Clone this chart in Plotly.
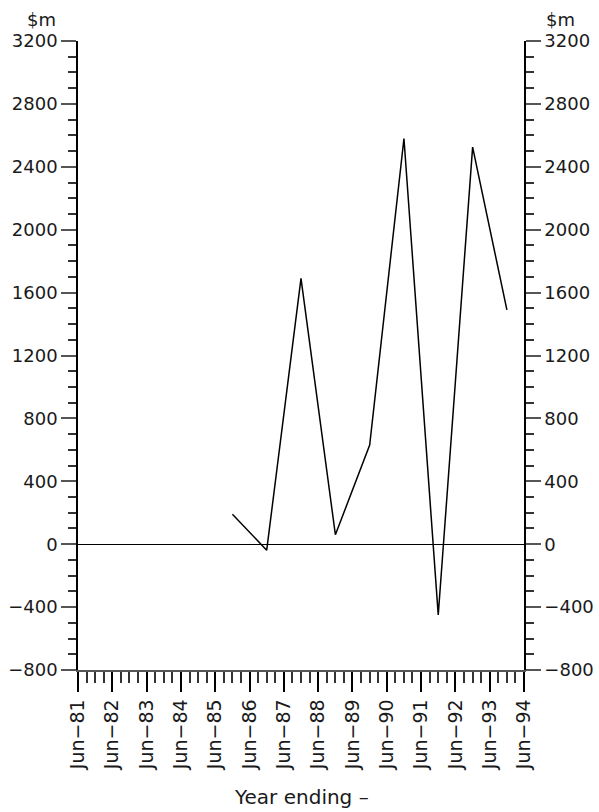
import plotly.graph_objects as go

# values, one point per year (plotted mid-year)
dates = ["1985-12-01", "1986-12-01", "1987-12-01", "1988-12-01", "1989-12-01",
         "1990-12-01", "1991-12-01", "1992-12-01", "1993-12-01"]
values = [190, -38, 1690, 60, 630, 2580, -450, 2525, 1490]

y_range = [-800, 3200]
x_range = ["1981-06-01", "1994-06-01"]

font = dict(family="DejaVu Sans", size=18, color="#1a1a1a")
xfont = dict(family="DejaVu Sans", size=19, color="#1a1a1a")

fig = go.Figure()
fig.add_trace(go.Scatter(x=dates, y=values, mode="lines",
                         line=dict(color="black", width=1.5),
                         showlegend=False, hoverinfo="x+y"))
# ghost copy so the right-hand axis gets drawn
fig.add_trace(go.Scatter(x=dates, y=values, mode="lines", yaxis="y2",
                         line=dict(width=0), opacity=0,
                         showlegend=False, hoverinfo="skip"))

yax = dict(range=y_range, dtick=400, tick0=0, ticks="outside", ticklen=15,
           tickcolor="#555555", tickwidth=1.5, showgrid=False,
           showline=True, linecolor="black", linewidth=1.5,
           minor=dict(dtick=100, ticks="outside", ticklen=8,
                      tickcolor="#333333", tickwidth=1.5, showgrid=False),
           tickfont=font, fixedrange=True, automargin=False)

fig.update_layout(
    width=599, height=812,
    margin=dict(l=78, r=75, t=41, b=142),
    paper_bgcolor="white", plot_bgcolor="white",
    font=font,
    xaxis=dict(type="date", range=x_range, tick0="1981-06-01", dtick="M12",
               tickformat="%b\u2212%y", tickangle=-90, ticks="outside",
               ticklen=20, tickcolor="black", tickwidth=1.5, showgrid=False,
               showline=True, linecolor="#555555", linewidth=1.5,
               minor=dict(tick0="1981-06-01", dtick="M3", ticks="outside",
                          ticklen=11, tickcolor="#333333", tickwidth=1.5,
                          showgrid=False),
               tickfont=xfont, automargin=False, fixedrange=True),
    yaxis=dict(**yax, zeroline=True, zerolinecolor="black", zerolinewidth=1.2),
    yaxis2=dict(**yax, overlaying="y", side="right", zeroline=False),
    annotations=[
        dict(text="$m", xref="paper", yref="paper", x=0, y=1, xanchor="right",
             yanchor="middle", xshift=-20, yshift=22, showarrow=False, font=font),
        dict(text="$m", xref="paper", yref="paper", x=1, y=1, xanchor="left",
             yanchor="middle", xshift=20, yshift=22, showarrow=False, font=font),
        dict(text="Year ending \u2013", xref="paper", yref="paper", x=0.5, y=0,
             xanchor="center", yanchor="middle", yshift=-127, showarrow=False,
             font=dict(family="DejaVu Sans", size=20, color="#1a1a1a")),
    ],
)

# drop the default page margin so the figure sits at the window's corner
fig.write_html("out.html", config={"displayModeBar": False},
               post_script="document.body.style.margin='0px';")
